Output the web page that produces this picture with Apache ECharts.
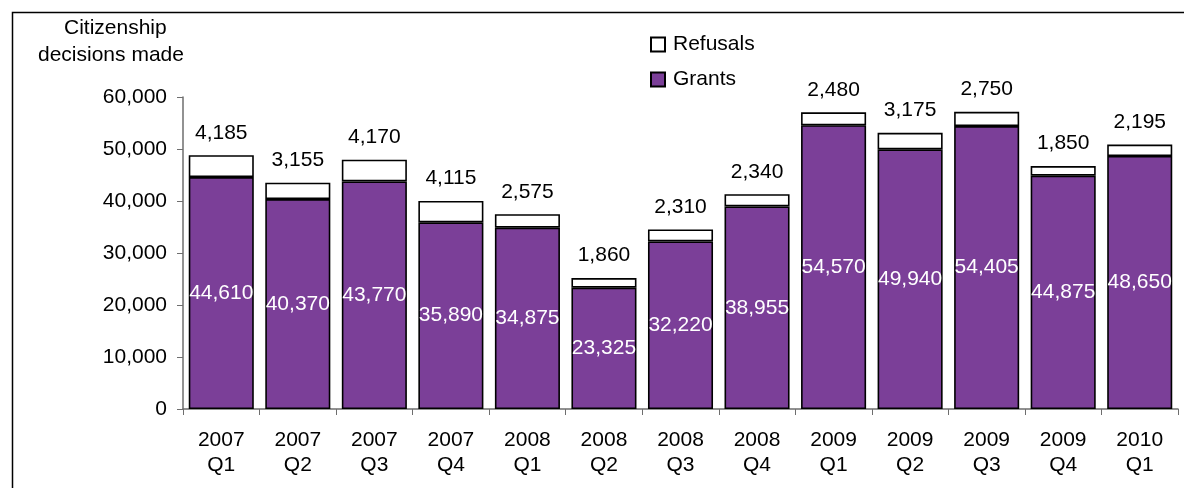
<!DOCTYPE html>
<html>
<head>
<meta charset="utf-8">
<script src="https://cdn.jsdelivr.net/npm/echarts@6/dist/echarts.min.js"></script>
<style>
html,body{margin:0;padding:0;background:#fff;}
#c{width:1184px;height:488px;}
</style>
</head>
<body>
<div id="c"></div>
<script>
const categories = ['2007\nQ1','2007\nQ2','2007\nQ3','2007\nQ4','2008\nQ1','2008\nQ2','2008\nQ3','2008\nQ4','2009\nQ1','2009\nQ2','2009\nQ3','2009\nQ4','2010\nQ1'];
const grants = [44610, 40370, 43770, 35890, 34875, 23325, 32220, 38955, 54570, 49940, 54405, 44875, 48650];
const refusals = [4185, 3155, 4170, 4115, 2575, 1860, 2310, 2340, 2480, 3175, 2750, 1850, 2195];
const yTicks = [0, 10000, 20000, 30000, 40000, 50000, 60000];

const fmt = v => Number(v).toLocaleString('en-US');
const FONT = 'Liberation Sans, Arial, sans-serif';
const chart = echarts.init(document.getElementById('c'));
chart.setOption({
  animation: false,
  textStyle: { fontFamily: FONT },
  graphic: [
    { type: 'rect', left: 10, top: 10, shape: { width: 1200, height: 500 },
      style: { fill: 'none', stroke: '#000', lineWidth: 1.5 }, silent: true },
    { type: 'text', left: 64, top: 18, style: { text: 'Citizenship', font: '21px ' + FONT, fill: '#000' } },
    { type: 'text', left: 38, top: 45, style: { text: 'decisions made', font: '21px ' + FONT, fill: '#000' } }
  ],
  legend: {
    orient: 'vertical', left: 650, top: 34, padding: 0,
    itemWidth: 14, itemHeight: 14, itemGap: 14,
    icon: 'rect',
    data: ['Refusals', 'Grants'],
    textStyle: { fontSize: 21, color: '#000', fontFamily: FONT, lineHeight: 21, padding: [0,0,0,3] }
  },
  grid: { left: 183, right: 6, top: 97, bottom: 79 },
  xAxis: {
    type: 'category', data: categories,
    axisLine: { lineStyle: { color: '#6e6e6e', width: 1.5 } },
    axisTick: { show: true, length: 6, alignWithLabel: false, lineStyle: { color: '#6e6e6e' } },
    axisLabel: { fontSize: 21, color: '#000', lineHeight: 25, margin: 19, fontFamily: FONT, interval: 0 }
  },
  yAxis: {
    type: 'value', min: 0, max: 60000, interval: 10000,
    splitLine: { show: false },
    axisLine: { show: true, lineStyle: { color: '#6e6e6e', width: 1.5 } },
    axisTick: { show: true, length: 6, lineStyle: { color: '#6e6e6e' } },
    axisLabel: { fontSize: 21, color: '#000', margin: 16, fontFamily: FONT,
      formatter: v => yTicks.includes(v) ? fmt(v) : '' }
  },
  series: [
    {
      name: 'Grants', type: 'bar', stack: 'a', data: grants,
      barCategoryGap: '15%',
      itemStyle: { color: '#7B3F98', borderColor: '#000', borderWidth: 1.6 },
      label: { show: true, position: 'inside', color: '#fff', fontSize: 21, fontFamily: FONT,
        formatter: p => fmt(p.value) }
    },
    {
      name: 'Refusals', type: 'bar', stack: 'a', data: refusals,
      barCategoryGap: '15%',
      itemStyle: { color: '#ffffff', borderColor: '#000', borderWidth: 1.6 },
      label: { show: true, position: 'top', distance: 12, color: '#000', fontSize: 21, fontFamily: FONT,
        formatter: p => fmt(p.value) }
    }
  ]
});
</script>
</body>
</html>
